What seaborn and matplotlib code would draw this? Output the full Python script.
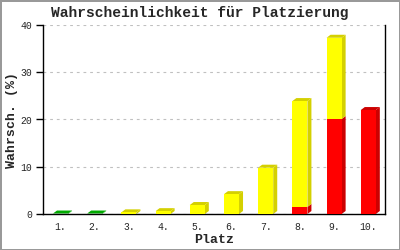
import matplotlib
matplotlib.use("Agg")
import matplotlib.pyplot as plt
import seaborn as sns
import pandas as pd
from matplotlib.patches import Polygon

plaetze = ["1.", "2.", "3.", "4.", "5.", "6.", "7.", "8.", "9.", "10."]
gruen = [0.1, 0.1, 0, 0, 0, 0, 0, 0, 0, 0]
rot = [0, 0, 0, 0, 0, 0, 0, 1.5, 20.1, 22.0]
gelb = [0, 0, 0.35, 0.6, 1.9, 4.2, 9.8, 22.4, 17.2, 0]
y_ticks = [0, 10, 20, 30, 40]

sns.set_theme(style="white")
plt.rcParams["font.family"] = ["Liberation Mono", "DejaVu Sans Mono"]

df = pd.DataFrame({"Platz": plaetze, "gruen": gruen, "rot": rot, "gelb": gelb})
df["rot_top"] = df["gruen"] + df["rot"]
df["total"] = df["rot_top"] + df["gelb"]

fig = plt.figure(figsize=(4, 2.5), dpi=100)
fig.patch.set_edgecolor("#999999")
fig.patch.set_linewidth(2)
ax = fig.add_axes([0.1085, 0.144, 0.855, 0.756])

W = 0.44
cols = {"gelb": ("#FFFF00", "#D4D000"), "rot": ("#FF0000", "#CC0000"), "gruen": ("#00CC00", "#00AA00")}

# front faces
sns.barplot(data=df, x="Platz", y="total", color=cols["gelb"][0], width=W,
            saturation=1, linewidth=0, ax=ax, zorder=3)
sns.barplot(data=df, x="Platz", y="rot_top", color=cols["rot"][0], width=W,
            saturation=1, linewidth=0, ax=ax, zorder=3)
sns.barplot(data=df, x="Platz", y="gruen", color=cols["gruen"][0], width=W,
            saturation=1, linewidth=0, ax=ax, zorder=3)

# 3D depth faces
dx = 4 / 34.24
dy = 3 / 4.725
for i in range(len(plaetze)):
    segs = []
    base = 0
    for key, val in (("gruen", gruen[i]), ("rot", rot[i]), ("gelb", gelb[i])):
        if val > 0:
            segs.append((key, base, base + val))
            base += val
    for j, (key, y0, y1) in enumerate(segs):
        x0 = i - W / 2
        x1 = i + W / 2
        side = Polygon([(x1, y0), (x1 + dx, y0 + dy), (x1 + dx, y1 + dy), (x1, y1)],
                       closed=True, facecolor=cols[key][1], edgecolor="none", zorder=2)
        ax.add_patch(side)
        if j == len(segs) - 1:
            top = Polygon([(x0, y1), (x1, y1), (x1 + dx, y1 + dy), (x0 + dx, y1 + dy)],
                          closed=True, facecolor=cols[key][1], edgecolor="none", zorder=2)
            ax.add_patch(top)

ax.set_xlim(-0.5, 9.5)
ax.set_ylim(0, 40)
ax.set_yticks(y_ticks)
ax.set_yticklabels([str(t) for t in y_ticks])
ax.yaxis.grid(True, linestyle=(0, (2.5, 3.5)), color="#C0C0C0", linewidth=0.8, zorder=0)
ax.set_axisbelow(True)
ax.spines["top"].set_visible(False)
for s in ["left", "bottom", "right"]:
    ax.spines[s].set_color("black")
    ax.spines[s].set_linewidth(1)
ax.tick_params(axis="y", length=5, width=1, color="black", left=True, labelsize=7, pad=3)
ax.tick_params(axis="x", length=0, labelsize=7, pad=6)

ax.set_xlabel("Platz", fontsize=9.5, fontweight="bold", labelpad=1)
ax.set_ylabel("Wahrsch. (%)", fontsize=9.5, fontweight="bold")
ax.yaxis.set_label_coords(-0.073, 0.5)
fig.text(0.5, 0.948, "Wahrscheinlichkeit für Platzierung", ha="center", va="center",
         fontsize=10.5, fontweight="bold")

fig.savefig("out.png", dpi=100)
